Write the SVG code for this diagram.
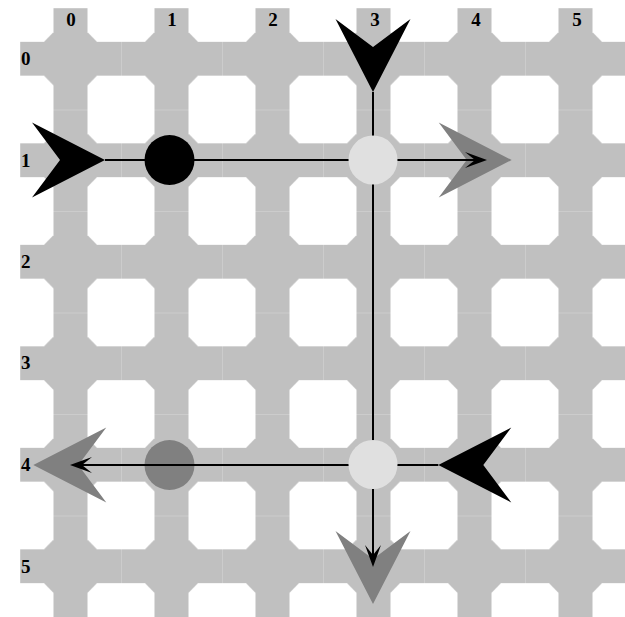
<svg xmlns="http://www.w3.org/2000/svg" width="625" height="617" viewBox="0 0 625 617">
<style>
.lbl{font-family:"Liberation Serif","Times New Roman",serif;font-size:19px;font-weight:bold;fill:#000}
.col{text-anchor:middle}
.conn{fill:none;stroke:#000;stroke-width:2}
.black{fill:#000}
.dark{fill:#808080}
.light{fill:#e0e0e0}
</style>
<defs>
<pattern id="tile" patternUnits="userSpaceOnUse" x="20" y="8" width="101" height="101.5">
<rect x="0" y="0" width="101" height="101.5" fill="#c0c0c0"/>
<rect x="0" y="0" width="0.8" height="101.5" fill="#cfcfcf"/>
<rect x="0" y="0" width="101" height="0.8" fill="#cfcfcf"/>
<path id="oct" d="M-24,-33.75 H24 L33.5,-24.25 V24.25 L24,33.75 H-24 L-33.5,24.25 V-24.25 Z" fill="#fff"/>
<use href="#oct" x="101" y="0"/>
<use href="#oct" x="0" y="101.5"/>
<use href="#oct" x="101" y="101.5"/>
</pattern>
<path id="dart" d="M0,0 L-73,-37.5 L-45,0 L-73,37.5 Z"/>
<marker id="arr" viewBox="0 0 22 16" refX="19" refY="8" markerWidth="22" markerHeight="16" markerUnits="userSpaceOnUse" orient="auto">
<path d="M0,0 L22,8 L0,16 L10,8 Z" fill="#000"/>
</marker>
</defs>
<g id="grid">
<rect x="20" y="8" width="605" height="609" fill="url(#tile)"/>
</g>
<g id="labels">
<text class="lbl col" x="71" y="26">0</text>
<text class="lbl col" x="172" y="26">1</text>
<text class="lbl col" x="273" y="26">2</text>
<text class="lbl col" x="375" y="26">3</text>
<text class="lbl col" x="476" y="26">4</text>
<text class="lbl col" x="577" y="26">5</text>
<text class="lbl" x="21" y="65">0</text>
<text class="lbl" x="21" y="167">1</text>
<text class="lbl" x="21" y="268">2</text>
<text class="lbl" x="21" y="369">3</text>
<text class="lbl" x="21" y="471">4</text>
<text class="lbl" x="21" y="573">5</text>
</g>
<g id="exit-right"><use href="#dart" class="dark" transform="translate(511.7,160)"/></g>
<g id="exit-left"><use href="#dart" class="dark" transform="translate(33.3,465) rotate(180)"/></g>
<g id="exit-down"><use href="#dart" class="dark" transform="translate(373,604) rotate(90)"/></g>
<g id="node-1-4"><circle cx="169.5" cy="465" r="25" class="dark"/></g>
<g id="connectors">
<path class="conn" d="M105,160 H484" marker-end="url(#arr)"/>
<path class="conn" d="M373,92 V564" marker-end="url(#arr)"/>
<path class="conn" d="M438.3,465 H73" marker-end="url(#arr)"/>
</g>
<g id="node-3-1"><circle cx="373" cy="160" r="24.5" class="light"/></g>
<g id="node-3-4"><circle cx="373" cy="464.5" r="24.5" class="light"/></g>
<g id="node-1-1"><circle cx="169.5" cy="160" r="25" class="black"/></g>
<g id="enter-left"><use href="#dart" class="black" transform="translate(105,160)"/></g>
<g id="enter-top"><use href="#dart" class="black" transform="translate(373,92) rotate(90)"/></g>
<g id="enter-right"><use href="#dart" class="black" transform="translate(438.3,465) rotate(180)"/></g>
</svg>
